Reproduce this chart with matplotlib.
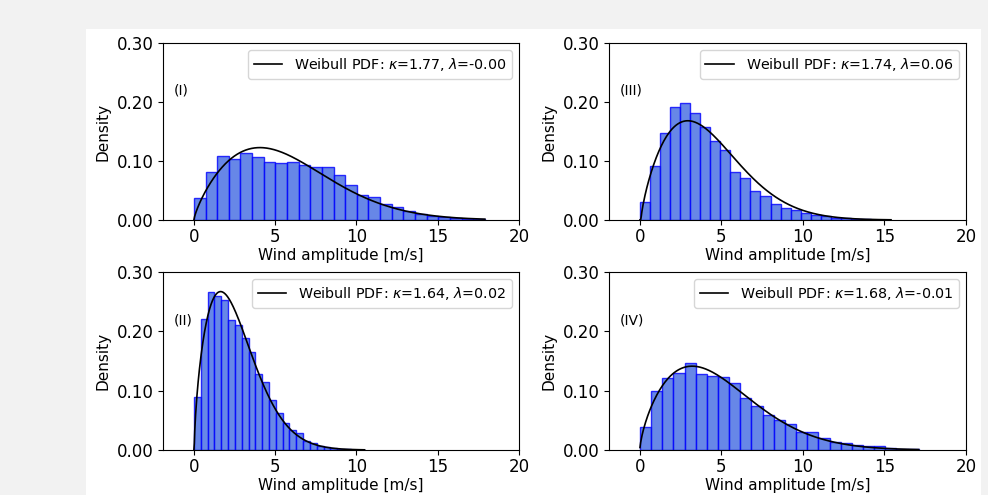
import numpy as np
import matplotlib
matplotlib.use("Agg")
import matplotlib.pyplot as plt
from matplotlib.patches import Rectangle

# ---------------- data ----------------
panel_labels = ["(I)", "(II)", "(III)", "(IV)"]
# histogram range (min, max of wind amplitude) per panel
hist_min = [0.0, 0.0, 0.0, 0.0]
hist_max = [17.9, 10.5, 15.4, 17.1]
n_bins = 25

dens_I = [0.037, 0.081, 0.108, 0.103, 0.113, 0.107, 0.098, 0.096, 0.099, 0.093,
          0.090, 0.089, 0.076, 0.059, 0.042, 0.039, 0.027, 0.022, 0.015, 0.010,
          0.007, 0.005, 0.003, 0.002, 0.001]
dens_II = [0.090, 0.220, 0.267, 0.260, 0.253, 0.219, 0.211, 0.189, 0.165, 0.128,
           0.114, 0.084, 0.062, 0.046, 0.033, 0.028, 0.016, 0.011, 0.007, 0.005,
           0.003, 0.002, 0.001, 0.0005, 0.0003]
dens_III = [0.031, 0.091, 0.147, 0.191, 0.199, 0.182, 0.157, 0.134, 0.119, 0.081,
            0.072, 0.049, 0.041, 0.027, 0.021, 0.017, 0.012, 0.008, 0.006, 0.004,
            0.003, 0.002, 0.001, 0.0007, 0.0003]
dens_IV = [0.038, 0.100, 0.122, 0.130, 0.147, 0.128, 0.125, 0.123, 0.113, 0.088,
           0.074, 0.059, 0.051, 0.044, 0.031, 0.030, 0.021, 0.013, 0.012, 0.008,
           0.006, 0.006, 0.003, 0.002, 0.001]
densities = [dens_I, dens_II, dens_III, dens_IV]

# Weibull fit parameters: shape (kappa), location (lambda label), scale
wb_shape = [1.77, 1.64, 1.74, 1.68]
wb_loc = [-0.00, 0.02, 0.06, -0.01]
wb_scale = [6.5, 2.88, 4.7, 5.5]

x_ticks = [0, 5, 10, 15, 20]
y_ticks = [0.0, 0.1, 0.2, 0.3]

# ---------------- figure ----------------
W, H = 988, 495
fig = plt.figure(figsize=(W / 100, H / 100), dpi=100, facecolor="#f2f2f2")
fig.patches.append(Rectangle((86 / W, 0), (981 - 86) / W, 1 - 29 / H,
                             transform=fig.transFigure, facecolor="white",
                             edgecolor="none", zorder=-10))


def px_axes(x0, x1, y0, y1):
    return fig.add_axes([x0 / W, 1 - y1 / H, (x1 - x0) / W, (y1 - y0) / H])


positions = [(163, 519, 43, 220), (163, 519, 272, 450),
             (609, 966, 43, 220), (609, 966, 272, 450)]


def weibull_pdf(x, c, loc, scale):
    z = np.clip((x - loc) / scale, 0, None)
    return (c / scale) * z ** (c - 1) * np.exp(-z ** c)


for i, pos in enumerate(positions):
    ax = px_axes(*pos)
    ax.patch.set_alpha(0)
    edges = np.linspace(hist_min[i], hist_max[i], n_bins + 1)
    ax.bar(edges[:-1], densities[i], width=np.diff(edges), align="edge",
           color="royalblue", edgecolor="blue", alpha=0.8, linewidth=1.0)
    xs = np.linspace(hist_min[i], hist_max[i], 400)
    ax.plot(xs, weibull_pdf(xs, wb_shape[i], wb_loc[i], wb_scale[i]), color="black",
            linewidth=1.2,
            label=rf"Weibull PDF: $\kappa$={wb_shape[i]:.2f}, $\lambda$={wb_loc[i]:.2f}")
    ax.set_xlim(-1.9, 20)
    ax.set_ylim(0, 0.3)
    ax.set_xticks(x_ticks)
    ax.set_yticks(y_ticks)
    ax.set_yticklabels([f"{v:.2f}" for v in y_ticks])
    ax.tick_params(labelsize=12)
    ax.tick_params(axis="x", pad=2)
    ax.set_xlabel("Wind amplitude [m/s]", fontsize=11, labelpad=2)
    ax.set_ylabel("Density", fontsize=11)
    ax.text(0.03, 0.73, panel_labels[i], transform=ax.transAxes, fontsize=10,
            va="center", ha="left")
    ax.legend(loc="upper right", fontsize=10.3)

# third row (cut off at the bottom of the image)
for x0, x1 in [(163, 519), (609, 966)]:
    ax = px_axes(x0, x1, 501, 679)
    ax.patch.set_alpha(0)
    ax.set_xlim(-1.9, 20)
    ax.set_ylim(0, 0.3)
    ax.set_xticks(x_ticks)
    ax.set_yticks(y_ticks)
    ax.set_yticklabels([f"{v:.2f}" for v in y_ticks])
    ax.tick_params(labelsize=12)

fig.savefig("out.png", dpi=100, facecolor=fig.get_facecolor())
